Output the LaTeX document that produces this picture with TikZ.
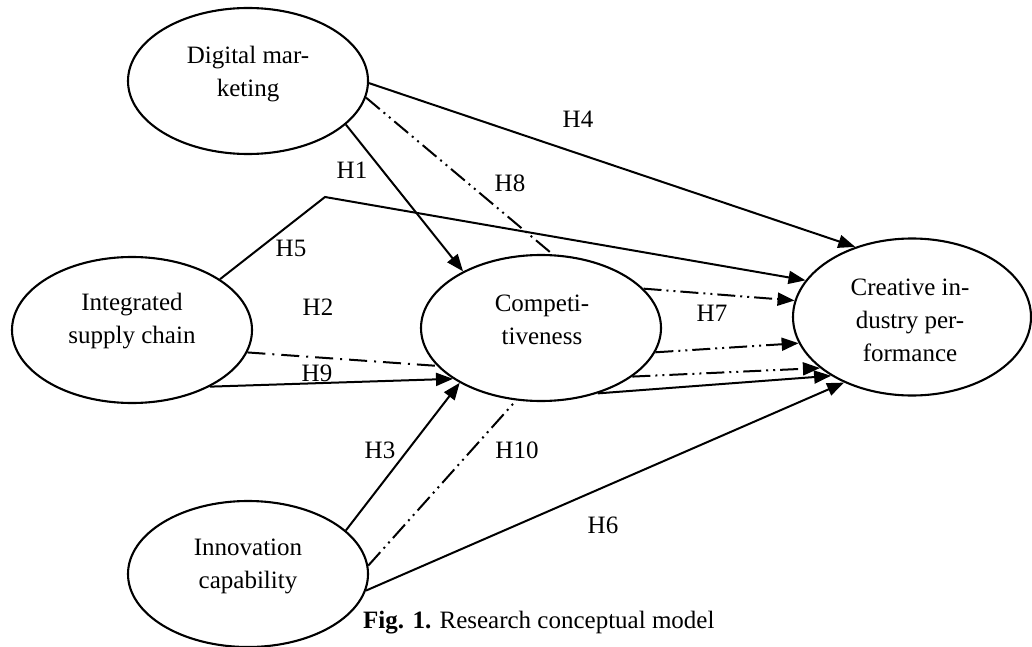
\documentclass[tikz,border=0pt]{standalone}
\usepackage{fontspec}
\setmainfont{Liberation Serif}
\usetikzlibrary{shapes.geometric,arrows.meta}
\begin{document}
\begin{tikzpicture}[x=1pt,y=-1pt,
  latent/.style={draw,ellipse,line width=2.1pt,inner sep=0pt,minimum width=240pt,minimum height=146pt},
  lbl/.style={font=\fontsize{25}{33}\selectfont,align=center,inner sep=0pt},
  hyp/.style={font=\fontsize{25}{30}\selectfont,inner sep=0pt},
  conn/.style={line width=2pt},
  arr/.style={conn,-{Triangle[length=17pt,width=13pt]}},
  ddot/.style={dash pattern=on 18pt off 5pt on 2pt off 5pt on 2pt off 5pt},
  dsdot/.style={dash pattern=on 18pt off 7pt on 2pt off 7pt}]
\useasboundingbox (0,0) rectangle (1032,647);
% latent variables
\node[latent] (dm) at (248,81) {};
\node[latent] (isc) at (132,330) {};
\node[latent] (comp) at (541,328) {};
\node[latent,minimum width=238pt,minimum height=157pt] (cip) at (912,317) {};
\node[latent] (ic) at (248,574) {};
% texts
\node[lbl] (dmt) at (248,74) {Digital mar-\\keting};
\node[lbl] (isct) at (132,321) {Integrated\\supply chain};
\node[lbl] (compt) at (542,320) {Competi-\\tiveness};
\node[lbl] (cipt) at (910,320) {Creative in-\\dustry per-\\formance};
\node[lbl] (ict) at (248,566) {Innovation\\capability};
% connectors
\coordinate (h5c) at (325,197);
\draw[arr] (dm.-1) -- (cip.129.6);
\draw[conn,ddot] (dm.-8) -- (comp.81);
\draw[arr] (dm.-24) -- (comp.144);
\draw[arr] (isc.30) -- (h5c) -- (cip.161);
\draw[arr,ddot] (comp.21) -- (cip.172);
\draw[conn,dsdot] (isc.-11) -- (comp.-160);
\draw[arr] (isc.-36) -- (comp.-150);
\draw[arr] (ic.24) -- (comp.-146);
\draw[conn,ddot] (ic.4) -- (comp.-109);
\draw[arr,ddot] (comp.-12) -- (cip.-167);
\draw[arr,ddot] (comp.-28) -- (cip.-151);
\draw[arr] (comp.-49) -- (cip.-144);
\draw[arr] (ic.-8) -- (cip.-136);
% hypothesis labels
\node[hyp] (h1) at (352,170) {H1};
\node[hyp] (h2) at (318,307) {H2};
\node[hyp] (h3) at (380,450) {H3};
\node[hyp] (h4) at (578,119) {H4};
\node[hyp] (h5) at (291,248) {H5};
\node[hyp] (h6) at (603,525) {H6};
\node[hyp] (h7) at (712,313) {H7};
\node[hyp] (h8) at (510,183) {H8};
\node[hyp] (h9) at (317,373) {H9};
\node[hyp] (h10) at (517,450) {H10};
% caption
\node[font=\fontsize{25}{30}\selectfont,inner sep=0pt,anchor=base west] (cap) at (363,628) {\textbf{Fig. 1.} Research conceptual model};
\end{tikzpicture}
\end{document}
